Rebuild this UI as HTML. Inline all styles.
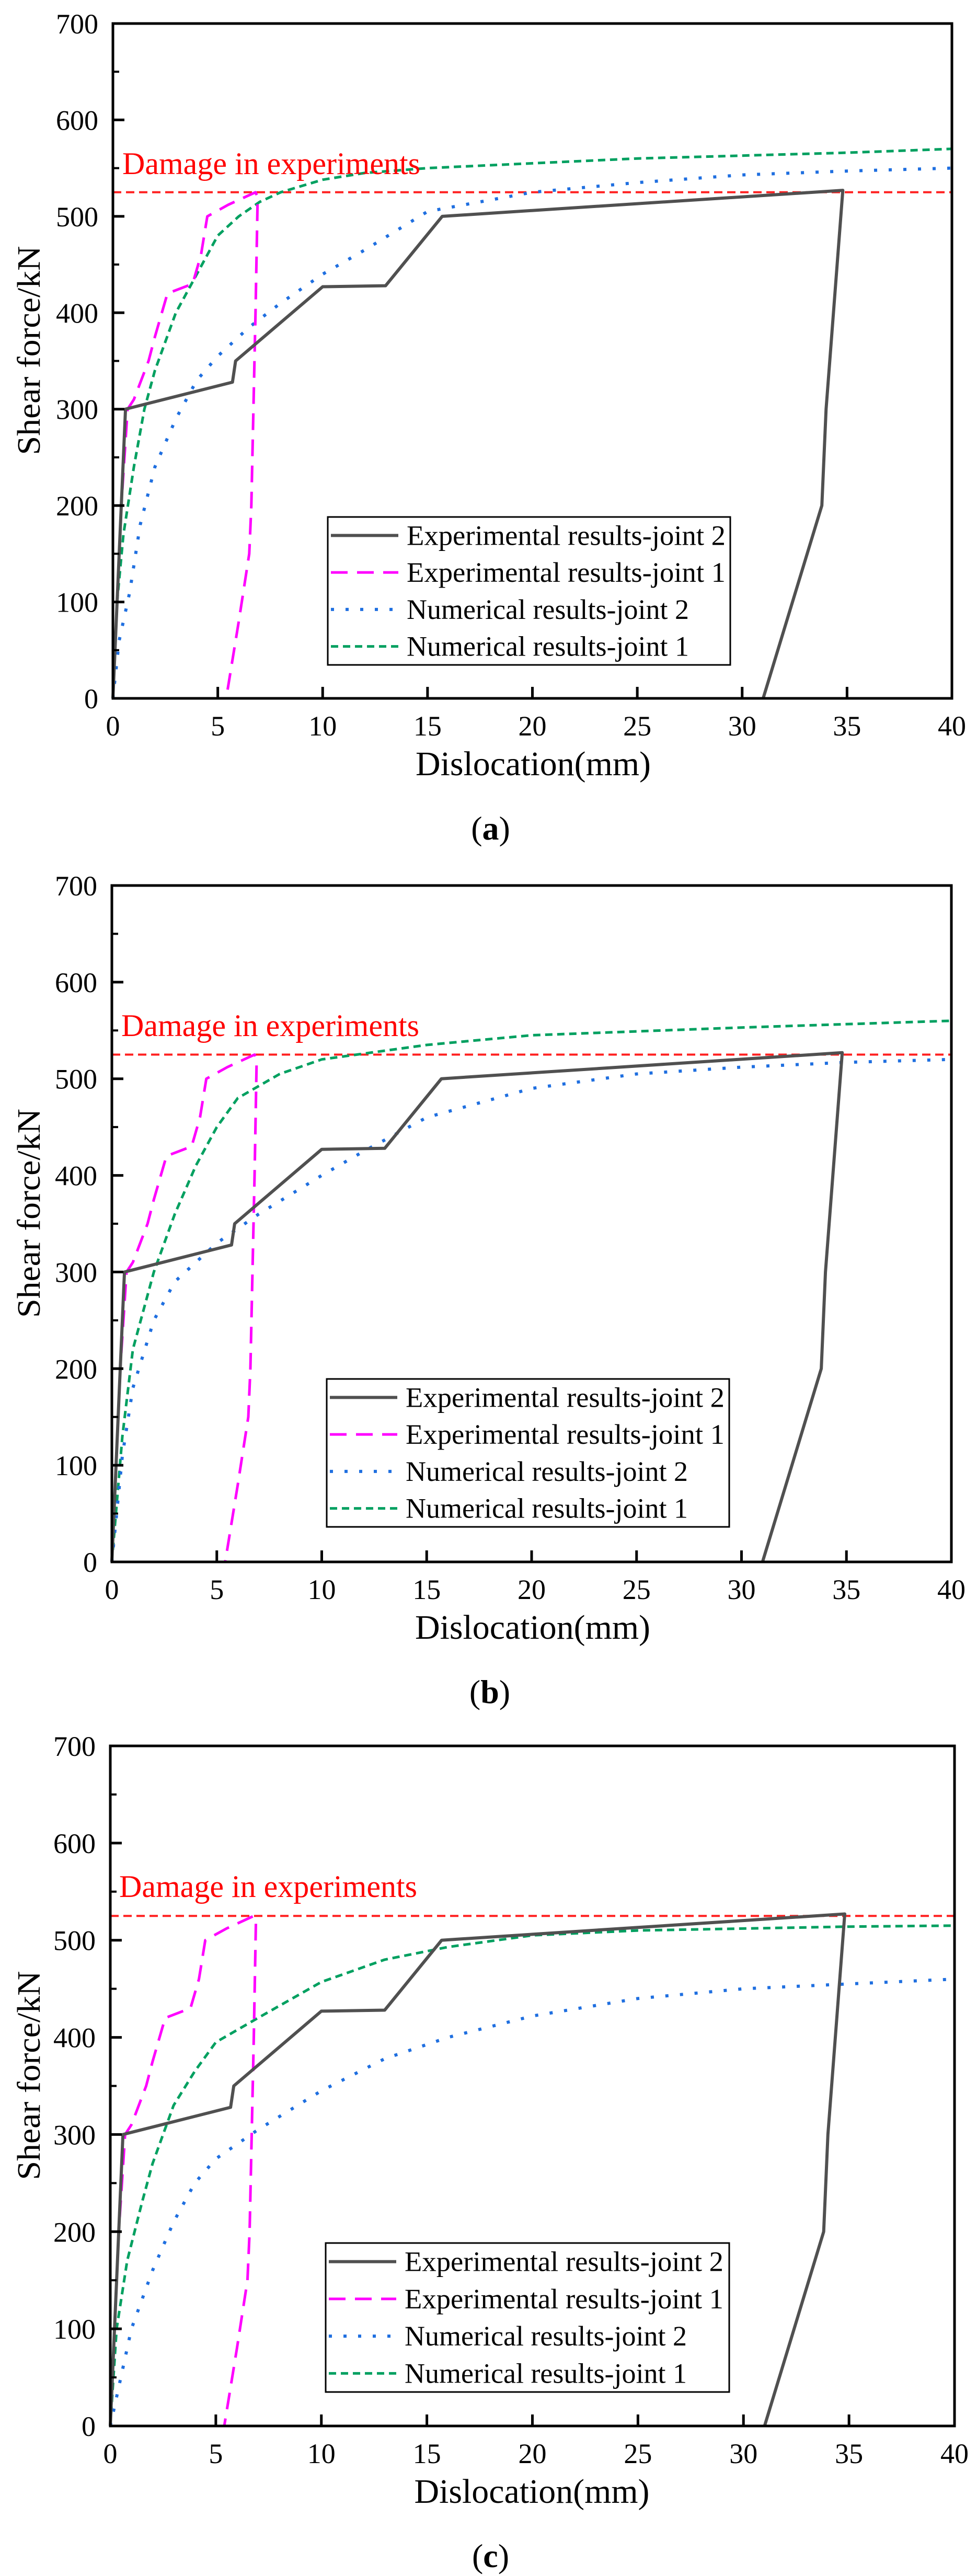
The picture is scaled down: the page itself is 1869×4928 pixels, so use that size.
<!DOCTYPE html>
<html><head><meta charset="utf-8">
<style>
html,body{margin:0;padding:0;background:#fff;}
svg{display:block;}
text{font-family:"Liberation Serif","DejaVu Serif",serif;}
</style></head>
<body>
<svg id="fig" width="1869" height="4928" viewBox="0 0 1869 4928" xmlns="http://www.w3.org/2000/svg"></svg>
<script>
// ---- data ----
const xTicks = [0,5,10,15,20,25,30,35,40];
const yTicks = [0,100,200,300,400,500,600,700];
const damageLevel = 525;
const legendLabels = ["Experimental results-joint 2","Experimental results-joint 1","Numerical results-joint 2","Numerical results-joint 1"];
const panelLabels = ["a","b","c"];

const expJ2X = [0,0.3,0.6,5.7,5.85,10,13,15.7,34.8,34.0,33.8,31];
const expJ2Y = [0,150,300,328,350,427,428,500,527,300,200,0];
const expJ1X = [0,0.4,0.7,1.0,1.7,2.0,2.6,3.8,4.2,4.5,5.5,6.8,6.9,6.8,6.7,6.6,6.5,6.0,5.4];
const expJ1Y = [0,200,300,310,350,375,420,430,460,500,512,525,520,400,300,200,150,80,0];

const numA2X = [0,0.3,0.8,1.3,2,3,4,5,6.5,8,10,12,15,20,25,30,35,40];
const numA2Y = [0,60,110,180,240,290,330,355,385,410,440,465,505,525,535,543,547,550];
const numA1X = [0,0.2,0.5,1,1.5,2,3,4,5,6,7,8,10,12,15,20,25,30,35,40];
const numA1Y = [0,100,170,240,300,340,400,440,480,500,515,525,538,545,550,555,560,563,566,570];

const numB2X = [0,0.5,1,2,3,5,7,10,12,15,20,25,30,35,40];
const numB2Y = [0,110,180,250,290,330,360,400,425,460,490,505,512,517,520];
const numB1X = [0,0.5,1,2,3,4,5,6,8,10,15,20,30,40];
const numB1Y = [0,130,220,300,360,410,450,480,505,520,535,545,553,560];

const numC2X = [0,0.5,1,2,3,4,5,6,7,10,13,16,20,25,30,35,40];
const numC2Y = [0,50,100,160,210,250,275,290,305,345,378,400,422,440,450,455,460];
const numC1X = [0,0.3,0.8,1.5,2,3,4,5,7,10,13,16,20,25,30,35,40];
const numC1Y = [0,100,170,230,270,330,365,395,420,457,480,493,505,510,512,514,515];

const NS="http://www.w3.org/2000/svg";
const svg=document.getElementById('fig');
function mk(tag,attrs,parent){const e=document.createElementNS(NS,tag);for(const k in attrs)e.setAttribute(k,attrs[k]);(parent||svg).appendChild(e);return e;}

const panels=[
 {L:216,R:1821,T:45,B:1336,leg:[627,989,1397,1272],dmg:[234,333],n2:[numA2X,numA2Y],n1:[numA1X,numA1Y]},
 {L:214,R:1820,T:1694,B:2988,leg:[625,2638,1395,2921],dmg:[232,1982],n2:[numB2X,numB2Y],n1:[numB1X,numB1Y]},
 {L:211,R:1826,T:3340,B:4641,leg:[623,4291,1395,4576],dmg:[228,3629],n2:[numC2X,numC2Y],n1:[numC1X,numC1Y]}
];
const styles=[
 {stroke:"#505050",w:6,dash:"",cap:"butt"},
 {stroke:"#ff00ff",w:5,dash:"32 18",cap:"butt"},
 {stroke:"#1f6fe0",w:6,dash:"6 22",cap:"butt"},
 {stroke:"#00a060",w:5,dash:"14 9",cap:"butt"}
];

panels.forEach((p,pi)=>{
  const g=mk('g',{});
  
  
  const sx=v=>p.L+(v-0)/(40-0)*(p.R-p.L);
  const sy=v=>p.B-(v-0)/(700-0)*(p.B-p.T);
  const plot=mk('g',{},g);
  
  
  const series=[[expJ2X,expJ2Y],[expJ1X,expJ1Y],p.n2,p.n1];
  const names=['exp-joint2-line','exp-joint1-line','num-joint2-line','num-joint1-line'];
  const dl=mk('line',{x1:p.L,x2:p.R,y1:sy(damageLevel),y2:sy(damageLevel),stroke:"#ff2020","stroke-width":4,"stroke-dasharray":"16 9"},plot);
  
  
  [3,2,1,0].forEach(si=>{
    const xs=series[si][0], ys=series[si][1], s=styles[si];
    const pts=xs.map((x,i)=>sx(x).toFixed(1)+','+sy(ys[i]).toFixed(1)).join(' ');
    const pl=mk('polyline',{points:pts,fill:"none",stroke:s.stroke,"stroke-width":s.w,"stroke-dasharray":s.dash,"stroke-linecap":s.cap,"stroke-linejoin":"round"},plot);
    
    
  });
  const dt=mk('text',{x:p.dmg[0],y:p.dmg[1],fill:"#ff0000","font-size":60,textLength:570,lengthAdjust:"spacingAndGlyphs"},g);
  dt.textContent="Damage in experiments";
  
  
  const fr=mk('rect',{x:p.L,y:p.T,width:p.R-p.L,height:p.B-p.T,fill:"none",stroke:"#000","stroke-width":5},g);
  
  
  xTicks.forEach(v=>{
    const t=mk('line',{x1:sx(v),x2:sx(v),y1:p.B,y2:p.B-22,stroke:"#000","stroke-width":5},g);
    
    
    const tl=mk('text',{x:sx(v),y:p.B+71,"font-size":54,"text-anchor":"middle"},g);
    tl.textContent=v;
    
    
  });
  yTicks.forEach(v=>{
    const t=mk('line',{x1:p.L,x2:p.L+22,y1:sy(v),y2:sy(v),stroke:"#000","stroke-width":5},g);
    
    
    if(v<700){const m=mk('line',{x1:p.L,x2:p.L+12,y1:sy(v+50),y2:sy(v+50),stroke:"#000","stroke-width":4},g);
      
      }
    const tl=mk('text',{x:p.L-28,y:sy(v)+19,"font-size":54,"text-anchor":"end"},g);
    tl.textContent=v;
    
    
  });
  const xt=mk('text',{x:1020+(p.L-216)/2,y:p.B+147,"font-size":66,"text-anchor":"middle",textLength:450,lengthAdjust:"spacingAndGlyphs"},g);
  xt.textContent="Dislocation(mm)";
  
  
  const cy=(p.T+p.B)/2-20;
  const yt=mk('text',{x:0,y:0,"font-size":62,"text-anchor":"middle",textLength:400,lengthAdjust:"spacingAndGlyphs",transform:`translate(76,${cy}) rotate(-90)`},g);
  yt.textContent="Shear force/kN";
  
  
  const pl=mk('text',{x:(p.L+p.R)/2-80,y:p.B+270,"font-size":64,"text-anchor":"middle"},g);
  pl.innerHTML='(<tspan font-weight="bold">'+panelLabels[pi]+'</tspan>)';
  
  
  const [lx0,ly0,lx1,ly1]=p.leg;
  const lg=mk('g',{},g);
  
  
  mk('rect',{x:lx0,y:ly0,width:lx1-lx0,height:ly1-ly0,fill:"#fff",stroke:"#000","stroke-width":3},lg);
  const rowH=(ly1-ly0)/4;
  legendLabels.forEach((lab,i)=>{
    const ry=ly0+rowH*(i+0.5);
    const s=styles[i];
    const e=mk('g',{},lg);
    
    
    mk('line',{x1:lx0+6,x2:lx0+135,y1:ry,y2:ry,stroke:s.stroke,"stroke-width":s.w,"stroke-dasharray":s.dash},e);
    const tl=mk('text',{x:lx0+151,y:ry+18,"font-size":54,textLength:i<2?610:540,lengthAdjust:"spacingAndGlyphs"},e);
    tl.textContent=lab;
  });
});
</script>
</body></html>
